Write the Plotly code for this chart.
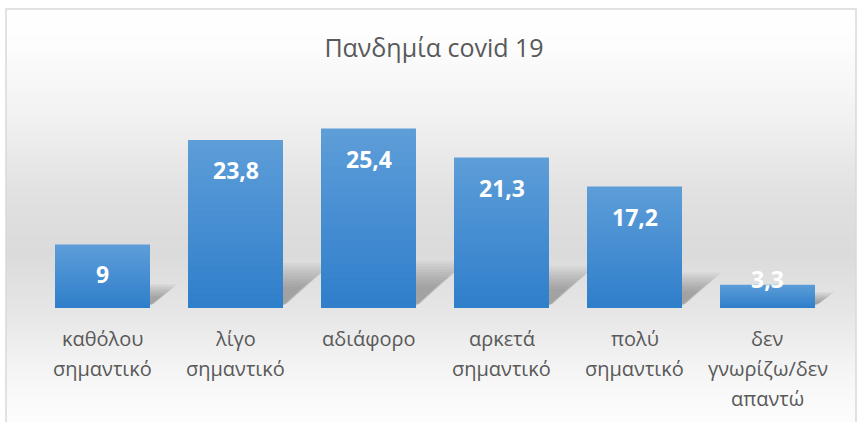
import base64
import struct
import zlib

import plotly.graph_objects as go

# --- data -------------------------------------------------------------
title_text = "Πανδημία covid 19"
categories = [
    "καθόλου\nσημαντικό",
    "λίγο\nσημαντικό",
    "αδιάφορο",
    "αρκετά\nσημαντικό",
    "πολύ\nσημαντικό",
    "δεν\nγνωρίζω/δεν\nαπαντώ",
]
values = [9, 23.8, 25.4, 21.3, 17.2, 3.3]
value_labels = ["9", "23,8", "25,4", "21,3", "17,2", "3,3"]

# --- geometry / style -------------------------------------------------
W, H = 857, 422
ML, MR, MT, MB = 36, 23, 82, 114
Y_MAX = 32
BAR_W = 0.714
TEXT_GREY = "#595959"
FONT = "Open Sans"

plot_w = W - ML - MR
plot_h = H - MT - MB
x_idx = list(range(len(categories)))
X_RANGE = [-0.5, len(categories) - 0.5]


def to_paper_x(px):
    return (px - ML) / plot_w


def to_paper_y(py):
    return (H - MB - py) / plot_h


def grey_gradient_png(levels):
    """1-pixel-wide grayscale PNG, one row per level."""
    raw = b"".join(b"\x00" + bytes([int(round(v))]) for v in levels)

    def chunk(tag, data):
        c = struct.pack(">I", len(data)) + tag + data
        return c + struct.pack(">I", zlib.crc32(tag + data) & 0xFFFFFFFF)

    png = b"\x89PNG\r\n\x1a\n"
    png += chunk(b"IHDR", struct.pack(">IIBBBBB", 1, len(levels), 8, 0, 0, 0, 0))
    png += chunk(b"IDAT", zlib.compress(raw, 9))
    png += chunk(b"IEND", b"")
    return "data:image/png;base64," + base64.b64encode(png).decode()


# vertical background gradient of the chart box
stops = [(0.0, 255), (0.08, 253), (0.25, 242), (0.45, 224), (0.58, 219),
         (0.72, 230), (0.86, 245), (1.0, 254)]
n_rows = 256
levels = []
for r in range(n_rows):
    t = r / (n_rows - 1)
    for (t0, v0), (t1, v1) in zip(stops, stops[1:]):
        if t0 <= t <= t1:
            levels.append(v0 + (v1 - v0) * (t - t0) / (t1 - t0))
            break
bg_src = grey_gradient_png(levels)

box_left, box_top, box_right, box_bottom = 6, 9, 856, 430

fig = go.Figure()

# soft cast shadow behind each bar (on the lower axis pair)
shadow_layers = 10
for i, v in zip(x_idx, values):
    for k in range(shadow_layers):
        g = k / (shadow_layers - 1)
        s_h = v * 0.10 + 0.6 + (v * 0.10 + 1.0) * g
        s_dx = v * 0.005 + 0.03 + (v * 0.006 + 0.08) * g
        base = 0.35 + 0.25 * g
        x0 = i - BAR_W / 2
        x1 = i + BAR_W / 2
        fig.add_trace(go.Scatter(
            x=[x0, x1 + 0.03 * g, x1 + s_dx, x0 + s_dx, x0],
            y=[base, base, s_h, s_h, base],
            xaxis="x", yaxis="y",
            fill="toself", mode="lines", line=dict(width=0),
            fillcolor="rgba(70,70,70,0.05)", hoverinfo="skip",
            showlegend=False,
        ))

# bars with a vertical gradient: stacked overlays, lighter on top
top_rgb = (93, 157, 216)
bot_rgb = (48, 127, 203)
n_steps = 24
for k in range(n_steps):
    t = k / (n_steps - 1)
    rgb = tuple(round(a + (b - a) * t) for a, b in zip(top_rgb, bot_rgb))
    fig.add_trace(go.Bar(
        x=x_idx,
        y=[v * (n_steps - k) / n_steps for v in values],
        width=BAR_W,
        xaxis="x2", yaxis="y2",
        marker=dict(color="rgb(%d,%d,%d)" % rgb, line=dict(width=0)),
        hoverinfo="skip",
        showlegend=False,
    ))

annotations = []
# value labels near the top inside each bar
for i, v, lab in zip(x_idx, values, value_labels):
    shift = -30 if v * plot_h / Y_MAX > 45 else 6
    annotations.append(dict(
        x=i, y=v, xref="x2", yref="y2", text="<b>%s</b>" % lab,
        showarrow=False, yanchor="middle", yshift=shift,
        font=dict(family=FONT, size=23, color="white"),
    ))

# category labels, one annotation per line
for i, cat in zip(x_idx, categories):
    for j, line in enumerate(cat.split("\n")):
        annotations.append(dict(
            x=i, y=0, xref="x2", yref="y2", text=line, showarrow=False,
            yanchor="middle", yshift=-30 - 30 * j,
            font=dict(family=FONT, size=20, color=TEXT_GREY),
        ))

hidden_axis = dict(showgrid=False, zeroline=False, showticklabels=False,
                   ticks="", fixedrange=True)

fig.update_layout(
    width=W, height=H,
    margin=dict(l=ML, r=MR, t=MT, b=MB),
    paper_bgcolor="white",
    plot_bgcolor="rgba(0,0,0,0)",
    barmode="overlay",
    title=dict(
        text=title_text, x=434 / W, y=1 - 48 / H, xref="container",
        yref="container", xanchor="center", yanchor="middle",
        font=dict(family=FONT, size=25, color=TEXT_GREY),
    ),
    xaxis=dict(range=X_RANGE, **hidden_axis),
    yaxis=dict(range=[0, Y_MAX], **hidden_axis),
    xaxis2=dict(range=X_RANGE, overlaying="x", **hidden_axis),
    yaxis2=dict(range=[0, Y_MAX], overlaying="y", **hidden_axis),
    annotations=annotations,
    images=[dict(
        source=bg_src, xref="paper", yref="paper",
        x=to_paper_x(box_left), y=to_paper_y(box_top),
        sizex=(box_right - box_left) / plot_w,
        sizey=(box_bottom - box_top) / plot_h,
        xanchor="left", yanchor="top", sizing="stretch", layer="below",
    )],
    shapes=[dict(
        type="rect", xref="paper", yref="paper",
        x0=to_paper_x(box_left), x1=to_paper_x(box_right),
        y0=to_paper_y(box_bottom), y1=to_paper_y(box_top),
        line=dict(color="#d9d9d9", width=1.5), fillcolor="rgba(0,0,0,0)",
        layer="below",
    )],
)

fig.write_html("out.html")
